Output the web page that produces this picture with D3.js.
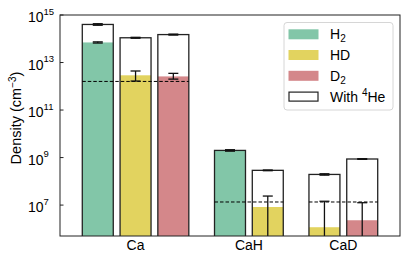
<!DOCTYPE html>
<html>
<head>
	<meta charset="utf-8">
	<title>Density</title>
	<script src="https://d3js.org/d3.v7.min.js"></script>
	<style>
		body { margin: 0; background: #fff; }
		text { font-family: "Liberation Sans", Arial, sans-serif; fill: #000; }
	</style>
</head>
<body>
	<div id="chart"></div>

	<script>
		// groups and where their labels sit (in bar slots)
		var molecules = ["Ca", "CaH", "CaD"];
		var moleculePos = [1, 4, 6.5];

		// one entry per bar
		var barSlot    = [0, 1, 2, 3.5, 4.5, 6, 7];
		var barSpecies = ["H2", "HD", "D2", "H2", "HD", "HD", "D2"];
		var density     = [7e13, 2.9e12, 2.6e12, 2.0e9, 8.3e6, 1.17e6, 2.3e6];
		var densityLow  = [6.6e13, 1.66e12, 2.0e12, 1.9e9, 1e5, 1e5, 1e5];
		var densityHigh = [7.4e13, 4.4e12, 3.5e12, 2.1e9, 2.4e7, 1.45e7, 1.26e7];
		var withHe      = [4.0e14, 1.1e14, 1.5e14, 2.0e9, 2.9e8, 1.95e8, 8.7e8];
		var withHeLow   = [3.7e14, 1.05e14, 1.43e14, 1.9e9, 2.8e8, 1.82e8, 8.4e8];
		var withHeHigh  = [4.3e14, 1.15e14, 1.57e14, 2.1e9, 3.0e8, 2.08e8, 9.0e8];

		// dashed level per group, spanning first to last bar of the group
		var dashLevel = [1.6e12, 1.35e7, 1.35e7];
		var dashFrom  = [0, 3.5, 6];
		var dashTo    = [2, 4.5, 7];

		var yTicks = [1e7, 1e9, 1e11, 1e13, 1e15];

		var legendKeys   = ["H2", "HD", "D2"];
		var legendLabels = [["H", "2"], ["HD", ""], ["D", "2"]];

		var color = { "H2": "#82c6a8", "HD": "#e2d35f", "D2": "#d4878a" };

		var W = 408, H = 260;
		var margin = { top: 15, right: 8, bottom: 24, left: 60 };

		var svg = d3.select("#chart").append("svg")
			.attr("width", W)
			.attr("height", H);

		var x = d3.scaleLinear()
			.domain([-1, 8])
			.range([margin.left, W - margin.right]);

		var y = d3.scaleLog()
			.domain([5e5, 1e15])
			.range([H - margin.bottom, margin.top]);

		var bw = (x(1) - x(0)) * 0.82;
		var bars = d3.range(barSlot.length);

		var plot = svg.append("g");
		plot.append("clipPath").attr("id", "clip")
			.append("rect")
			.attr("x", x(-1)).attr("y", y(1e15))
			.attr("width", x(8) - x(-1)).attr("height", y(5e5) - y(1e15));

		var inner = plot.append("g").attr("clip-path", "url(#clip)");

		// coloured bars
		inner.selectAll(".bar").data(bars).enter().append("rect")
			.attr("class", "bar")
			.attr("x", function (i) { return x(barSlot[i]) - bw / 2; })
			.attr("width", bw)
			.attr("y", function (i) { return y(density[i]); })
			.attr("height", function (i) { return y(5e5) - y(density[i]); })
			.attr("fill", function (i) { return color[barSpecies[i]]; });

		// outlined bars with 4He
		inner.selectAll(".he").data(bars).enter().append("rect")
			.attr("class", "he")
			.attr("x", function (i) { return x(barSlot[i]) - bw / 2; })
			.attr("width", bw)
			.attr("y", function (i) { return y(withHe[i]); })
			.attr("height", function (i) { return y(5e5) - y(withHe[i]) + 2; })
			.attr("fill", "none")
			.attr("stroke", "#222")
			.attr("stroke-width", 1.3);

		// dashed levels
		inner.selectAll(".dash").data(dashLevel).enter().append("line")
			.attr("x1", function (d, i) { return x(dashFrom[i]) - bw / 2; })
			.attr("x2", function (d, i) { return x(dashTo[i]) + bw / 2; })
			.attr("y1", function (d) { return y(d); })
			.attr("y2", function (d) { return y(d); })
			.attr("stroke", "#000")
			.attr("stroke-width", 1)
			.attr("stroke-dasharray", "3.5,2");

		// error bars
		function errBars(lo, hi) {
			var g = inner.append("g").attr("stroke", "#111").attr("stroke-width", 1.3);
			bars.forEach(function (i) {
				var cx = x(barSlot[i]);
				g.append("line")
					.attr("x1", cx).attr("x2", cx)
					.attr("y1", y(lo[i])).attr("y2", y(hi[i]));
				[lo[i], hi[i]].forEach(function (v) {
					g.append("line")
						.attr("x1", cx - 5).attr("x2", cx + 5)
						.attr("y1", y(v)).attr("y2", y(v));
				});
			});
		}
		errBars(densityLow, densityHigh);
		errBars(withHeLow, withHeHigh);

		// frame
		plot.append("rect")
			.attr("x", x(-1)).attr("y", y(1e15))
			.attr("width", x(8) - x(-1)).attr("height", y(5e5) - y(1e15))
			.attr("fill", "none")
			.attr("stroke", "#222")
			.attr("stroke-width", 1);

		// y ticks (inward) and labels
		var yt = svg.append("g");
		yTicks.forEach(function (t) {
			var ty = y(t);
			yt.append("line")
				.attr("x1", margin.left).attr("x2", margin.left + 3.5)
				.attr("y1", ty).attr("y2", ty)
				.attr("stroke", "#222");
			var lab = yt.append("text")
				.attr("x", 28).attr("y", ty + 7)
				.attr("font-size", 14);
			lab.append("tspan").text("10");
			lab.append("tspan")
				.attr("dy", -7.5)
				.attr("font-size", 9.5)
				.text(Math.round(Math.log10(t)));
		});

		// x labels
		svg.selectAll(".xlab").data(molecules).enter().append("text")
			.attr("x", function (d, i) { return x(moleculePos[i]); })
			.attr("y", H - 10)
			.attr("text-anchor", "middle")
			.attr("font-size", 14)
			.text(function (d) { return d; });

		// y axis title
		var yl = svg.append("text")
			.attr("transform", "translate(21," + 118 + ") rotate(-90)")
			.attr("text-anchor", "middle")
			.attr("font-size", 14.5);
		yl.append("tspan").text("Density (cm");
		yl.append("tspan").attr("dy", -5).attr("font-size", 10).text("\u22123");
		yl.append("tspan").attr("dy", 5).text(")");

		// legend
		var lg = svg.append("g");
		lg.append("rect")
			.attr("x", 284).attr("y", 22.5)
			.attr("width", 109).attr("height", 87.5)
			.attr("rx", 3)
			.attr("fill", "#fff")
			.attr("stroke", "#d6d6d6");

		var rowY = [34.3, 55, 75.8, 96.6];
		legendKeys.forEach(function (k, i) {
			lg.append("rect")
				.attr("x", 288.5).attr("y", rowY[i] - 5)
				.attr("width", 30).attr("height", 10)
				.attr("fill", color[k]);
			var t = lg.append("text")
				.attr("x", 330).attr("y", rowY[i] + 5)
				.attr("font-size", 14);
			t.append("tspan").text(legendLabels[i][0]);
			if (legendLabels[i][1]) {
				t.append("tspan").attr("dy", 3).attr("font-size", 10).text(legendLabels[i][1]);
			}
		});
		lg.append("rect")
			.attr("x", 289).attr("y", rowY[3] - 4.5)
			.attr("width", 29).attr("height", 9)
			.attr("fill", "none")
			.attr("stroke", "#222")
			.attr("stroke-width", 1.2);
		var th = lg.append("text")
			.attr("x", 330).attr("y", rowY[3] + 5)
			.attr("font-size", 14);
		th.append("tspan").text("With ");
		th.append("tspan").attr("dy", -5.5).attr("font-size", 10).text("4");
		th.append("tspan").attr("dy", 5.5).text("He");
	</script>
</body>
</html>
